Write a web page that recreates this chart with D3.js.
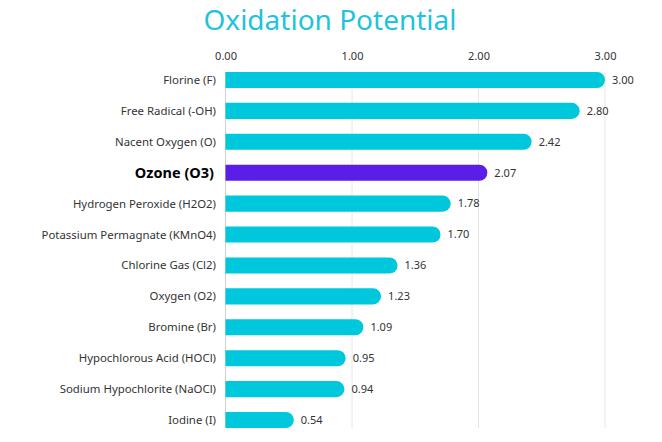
<!DOCTYPE html>
<html><head><meta charset="utf-8">
<script src="https://cdn.jsdelivr.net/npm/d3@7"></script>
<style>body{margin:0;background:#fff;} svg{display:block;}</style>
</head><body>
<svg id="c" width="662" height="442"></svg>
<script>
const categories = ["Florine (F)","Free Radical (-OH)","Nacent Oxygen (O)","Ozone (O3)","Hydrogen Peroxide (H2O2)","Potassium Permagnate (KMnO4)","Chlorine Gas (Cl2)","Oxygen (O2)","Bromine (Br)","Hypochlorous Acid (HOCl)","Sodium Hypochlorite (NaOCl)","Iodine (I)"];
const values = [3.00,2.80,2.42,2.07,1.78,1.70,1.36,1.23,1.09,0.95,0.94,0.54];
const tickValues = [0,1,2,3];
const highlight = "Ozone (O3)";
const title = "Oxidation Potential";

const svg = d3.select("#c");
const font = "'Noto Sans', sans-serif";
const x = d3.scaleLinear().domain([0,3]).range([225.5,605]);
const y = d3.scaleBand().domain(categories).range([64.5,435.5]).paddingInner(0.48).paddingOuter(0.24);

svg.append("text").attr("x",330).attr("y",30).attr("text-anchor","middle")
  .attr("font-family",font).attr("font-size",28).attr("fill","#1ec3dd").text(title);

const gTop = y(categories[0]), gBot = y(categories[categories.length-1]) + y.bandwidth();
svg.append("g").selectAll("line").data(tickValues).join("line")
  .attr("x1",d=>x(d)).attr("x2",d=>x(d)).attr("y1",gTop).attr("y2",gBot)
  .attr("stroke",d=>d===0?"#cfcfcf":"#e6e6e6").attr("stroke-width",1);

const ax = svg.append("g").attr("transform","translate(0,60)")
  .call(d3.axisTop(x).tickValues(tickValues).tickFormat(d3.format(".2f")).tickSize(0).tickPadding(0));
ax.select(".domain").remove();
ax.selectAll("text").attr("font-family",font).attr("font-size",11).attr("fill","#333");

const bh = y.bandwidth(), r = bh/2;
function barPath(v, yy){
  const x0 = x(0), x1 = x(v);
  return `M${x0},${yy}H${x1-r}A${r},${r} 0 0 1 ${x1-r},${yy+bh}H${x0}Z`;
}
svg.append("g").selectAll("path").data(categories).join("path")
  .attr("d",(d,i)=>barPath(values[i], y(d)))
  .attr("fill",d=>d===highlight?"#5a1ee8":"#00c8dc");

svg.append("g").selectAll("text").data(categories).join("text")
  .attr("x",(d,i)=>x(values[i])+7).attr("y",d=>y(d)+bh/2).attr("dy","0.35em")
  .attr("font-family",font).attr("font-size",11).attr("fill","#333")
  .text((d,i)=>values[i].toFixed(2));

svg.append("g").selectAll("text").data(categories).join("text")
  .attr("x",d=>d===highlight?214:216).attr("y",d=>y(d)+bh/2).attr("dy","0.35em").attr("text-anchor","end")
  .attr("font-family",font)
  .attr("font-size",d=>d===highlight?14.5:11.4)
  .attr("font-weight",d=>d===highlight?700:400)
  .attr("fill",d=>d===highlight?"#000":"#333")
  .text(d=>d);
</script>
</body></html>
